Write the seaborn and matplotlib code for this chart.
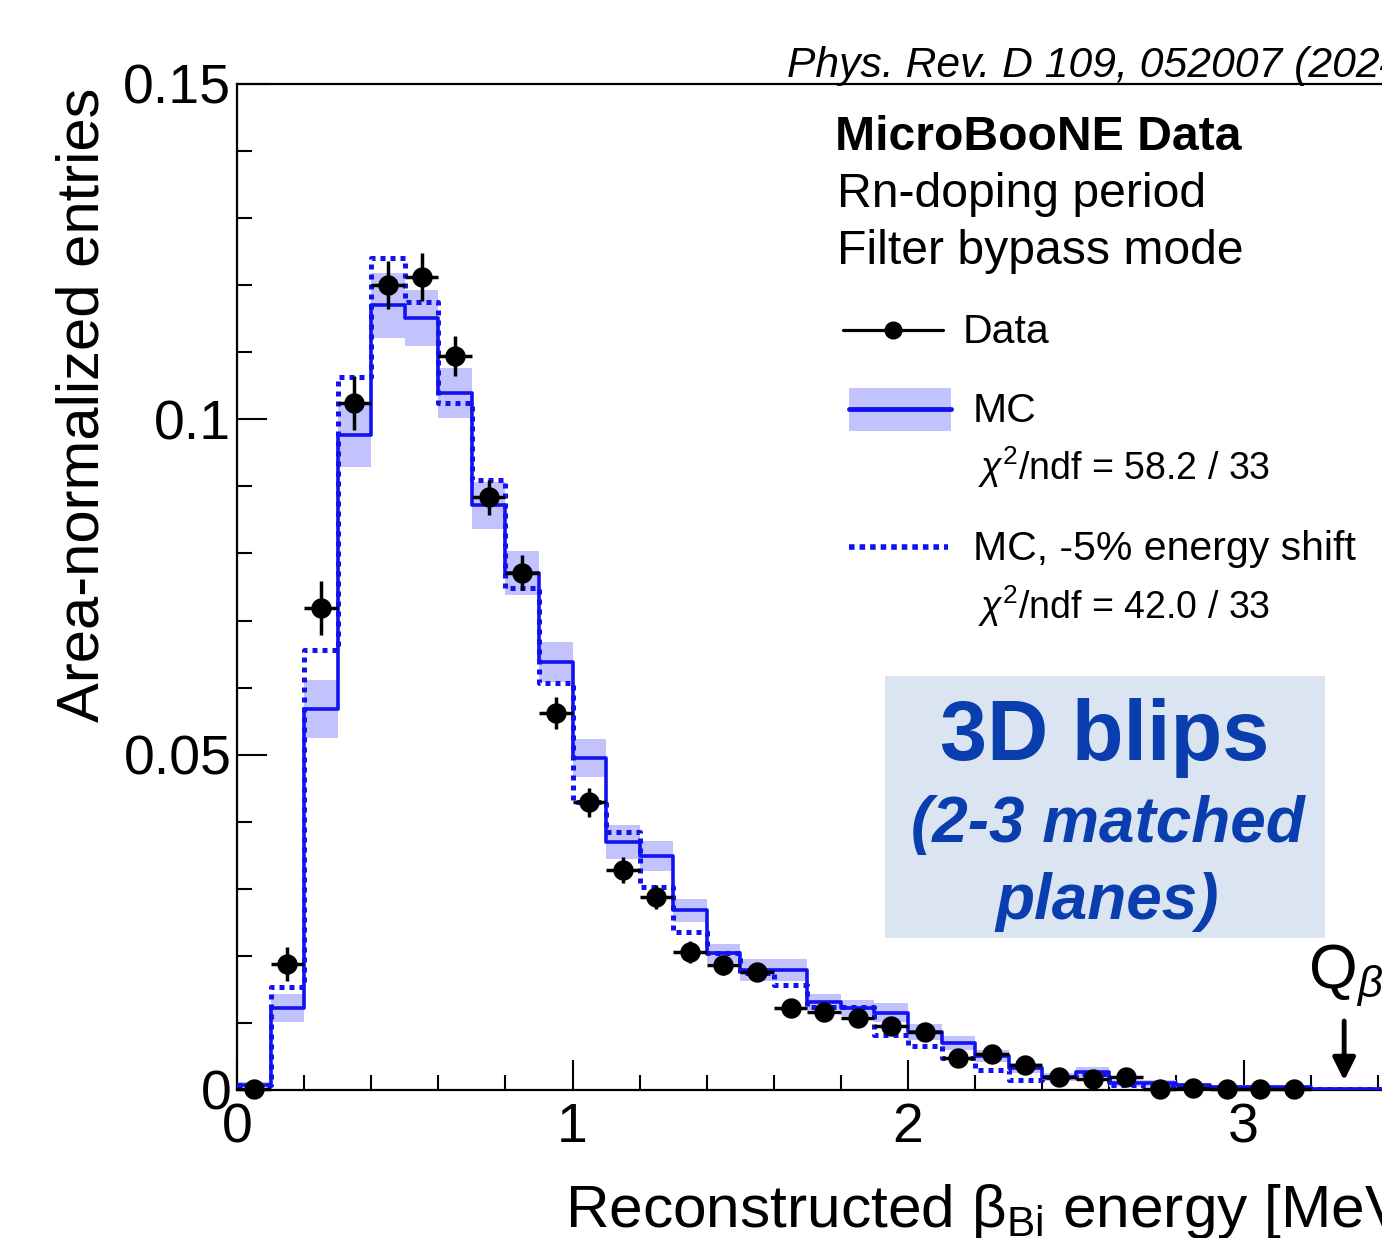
import numpy as np
import pandas as pd
import matplotlib
matplotlib.use("Agg")
import matplotlib.pyplot as plt
import seaborn as sns
from matplotlib.lines import Line2D
from matplotlib.patches import Rectangle
from matplotlib.ticker import MultipleLocator, FixedLocator, FixedFormatter

# ---------------- data ----------------
bin_edges = [round(0.1 * i, 2) for i in range(36)]
bin_centers = [round(0.1 * i + 0.05, 3) for i in range(35)]

mc = [0.0008, 0.0122, 0.0568, 0.0977, 0.1170, 0.1151, 0.1039, 0.0872, 0.0771, 0.0638,
      0.0495, 0.0370, 0.0349, 0.0268, 0.0204, 0.0179, 0.0179, 0.0131, 0.0122, 0.0115,
      0.0087, 0.0070, 0.0051, 0.0033, 0.0019, 0.0027, 0.0010, 0.0010, 0.0007, 0.0004,
      0.0004, 0.0004, 0.0002, 0.0002, 0.0002]
mc_err = [0.0004, 0.0021, 0.0043, 0.0048, 0.0048, 0.0042, 0.0037, 0.0035, 0.0033, 0.0030,
          0.0028, 0.0025, 0.0022, 0.0017, 0.0014, 0.0016, 0.0016, 0.0012, 0.0012, 0.0014,
          0.0012, 0.0010, 0.0009, 0.0008, 0.0006, 0.0007, 0.0005, 0.0005, 0.0004, 0.0003,
          0.0003, 0.0003, 0.0003, 0.0003, 0.0003]
mc_shift = [0.0008, 0.0154, 0.0656, 0.1063, 0.1240, 0.1175, 0.1024, 0.0909, 0.0748, 0.0607,
            0.0429, 0.0385, 0.0303, 0.0236, 0.0204, 0.0174, 0.0157, 0.0124, 0.0124, 0.0082,
            0.0066, 0.0047, 0.0030, 0.0015, 0.0020, 0.0024, 0.0007, 0.0006, 0.0005, 0.0003,
            0.0002, 0.0002, 0.0002, 0.0002, 0.0002]
data_vals = [0.0002, 0.0188, 0.0719, 0.1024, 0.1200, 0.1212, 0.1094, 0.0884, 0.0771, 0.0562,
             0.0429, 0.0328, 0.0288, 0.0206, 0.0186, 0.0176, 0.0122, 0.0116, 0.0107, 0.0096,
             0.0087, 0.0047, 0.0053, 0.0037, 0.0019, 0.0017, 0.0019, 0.0001, 0.0003, 0.0002,
             0.0001, 0.0001]
data_err = [0.0005, 0.0025, 0.0040, 0.0040, 0.0036, 0.0036, 0.0030, 0.0026, 0.0026, 0.0024,
            0.0022, 0.0020, 0.0018, 0.0016, 0.0015, 0.0014, 0.0013, 0.0012, 0.0012, 0.0011,
            0.0011, 0.0010, 0.0010, 0.0009, 0.0008, 0.0008, 0.0008, 0.0006, 0.0006, 0.0006,
            0.0006, 0.0006]

y_ticks = [0.0, 0.05, 0.10, 0.15]
y_tick_labels = ["0", "0.05", "0.1", "0.15"]
x_ticks = [0, 1, 2, 3]
x_tick_labels = ["0", "1", "2", "3"]

df_mc = pd.DataFrame({"E": bin_centers, "mc": mc, "err": mc_err, "shift": mc_shift})
df_data = pd.DataFrame({"E": bin_centers[:len(data_vals)], "y": data_vals, "err": data_err})

# ---------------- style ----------------
sns.set_theme(style="white")
plt.rcParams["font.family"] = ["Liberation Sans", "DejaVu Sans"]
plt.rcParams["mathtext.fontset"] = "custom"
plt.rcParams["mathtext.rm"] = "Liberation Sans"
plt.rcParams["mathtext.it"] = "Liberation Sans:italic"
plt.rcParams["mathtext.bf"] = "Liberation Sans:bold"

W, H = 1382, 1238
fig = plt.figure(figsize=(W / 100, H / 100), dpi=100)
fig.patch.set_facecolor("white")

def fx(x):
    return x / W

def fy(y):
    return 1 - y / H

ax_left, ax_bottom_px, ax_top_px = 237, 1090, 84
px_per_unit = 335.5
ax_w_px = 3.5 * px_per_unit
ax = fig.add_axes([fx(ax_left), fy(ax_bottom_px), ax_w_px / W,
                   (ax_bottom_px - ax_top_px) / H])
ax.set_facecolor("white")

BLUE = "#1212ee"
BAND = "#c2c2fc"

# MC uncertainty band
ax.bar(df_mc["E"], 2 * df_mc["err"], bottom=df_mc["mc"] - df_mc["err"], width=0.1,
       color=BAND, edgecolor="none", linewidth=0, zorder=1)

# MC histogram (solid)
sns.histplot(data=df_mc, x="E", weights="mc", bins=bin_edges, element="step", fill=False,
             color=BLUE, linewidth=2.6, ax=ax, zorder=3, legend=False)
# MC shifted (dotted)
sns.histplot(data=df_mc, x="E", weights="shift", bins=bin_edges, element="step", fill=False,
             color=BLUE, linewidth=3.6, linestyle=(0, (1, 1)), ax=ax, zorder=4, legend=False)

# Data
ax.errorbar(df_data["E"], df_data["y"], yerr=df_data["err"], xerr=0.05, fmt="none",
            ecolor="black", elinewidth=2.5, capsize=0, zorder=6, clip_on=False)
sns.scatterplot(data=df_data, x="E", y="y", color="black", s=215, linewidth=0,
                ax=ax, zorder=7, legend=False, clip_on=False)

# axes
ax.set_xlim(0, 3.5)
ax.set_ylim(0, 0.15)
ax.xaxis.set_major_locator(FixedLocator(x_ticks))
ax.xaxis.set_major_formatter(FixedFormatter(x_tick_labels))
ax.xaxis.set_minor_locator(MultipleLocator(0.2))
ax.yaxis.set_major_locator(FixedLocator(y_ticks))
ax.yaxis.set_major_formatter(FixedFormatter(y_tick_labels))
ax.yaxis.set_minor_locator(MultipleLocator(0.01))
ax.tick_params(axis="both", which="both", direction="in", color="black", width=1.5,
               top=False, right=False, bottom=True, left=True)
ax.tick_params(axis="both", which="major", length=21.6, labelsize=40, labelcolor="black")
ax.tick_params(axis="both", which="minor", length=10.8)
ax.tick_params(axis="x", which="major", pad=9)
ax.tick_params(axis="y", which="major", pad=4)
for s in ["left", "bottom", "top"]:
    ax.spines[s].set_visible(True)
    ax.spines[s].set_color("black")
    ax.spines[s].set_linewidth(1.6)
ax.spines["right"].set_visible(False)

ax.set_ylabel("Area-normalized entries", fontsize=43, color="black")
ax.yaxis.set_label_coords(-0.108, 0.681)
ax.set_xlabel(r"Reconstructed $\mathrm{β}_{\mathrm{Bi}}$ energy [MeV]", fontsize=43.5,
              color="black", loc="left")
ax.xaxis.set_label_coords((565 - ax_left) / ax_w_px, -0.091)

# Q_beta marker
ax.annotate("", xy=(3.30, 0.0010), xytext=(3.30, 0.0107),
            arrowprops=dict(arrowstyle="-|>", color="black", lw=3.5, mutation_scale=34),
            annotation_clip=False, zorder=8)
ax.text(3.305, (1090 - 988) / 6707, r"$\mathrm{Q}_{\beta}$", fontsize=45, ha="center",
        va="baseline", color="black", clip_on=False)

# top texts
fig.text(fx(787), fy(77), "Phys. Rev. D 109, 052007 (2024)", fontsize=30.7,
         style="italic", ha="left", va="baseline", color="black")
fig.text(fx(835), fy(150), "MicroBooNE Data", fontsize=34.7, weight="bold",
         ha="left", va="baseline", color="black")
fig.text(fx(837), fy(207), "Rn-doping period", fontsize=34.7, ha="left", va="baseline",
         color="black")
fig.text(fx(837), fy(264), "Filter bypass mode", fontsize=34.7, ha="left", va="baseline",
         color="black")

# legend (manual, ROOT style)
fig.add_artist(Line2D([fx(843), fx(943)], [fy(330), fy(330)], color="black", lw=2.3,
                      transform=fig.transFigure))
fig.add_artist(Line2D([fx(893)], [fy(330)], color="black", marker="o", markersize=12,
                      transform=fig.transFigure))
fig.text(fx(963), fy(343), "Data", fontsize=29.5, ha="left", va="baseline", color="black")

fig.add_artist(Rectangle((fx(849), fy(431)), fx(951) - fx(849), fy(388) - fy(431),
                         transform=fig.transFigure, facecolor=BAND, edgecolor="none"))
fig.add_artist(Line2D([fx(849), fx(951)], [fy(409), fy(409)], color=BLUE, lw=3.5,
                      transform=fig.transFigure))
fig.text(fx(973), fy(422), "MC", fontsize=29.5, ha="left", va="baseline", color="black")
fig.text(fx(978), fy(480), r"$\chi^2$/ndf = 58.2 / 33", fontsize=27, ha="left",
         va="baseline", color="black")

fig.add_artist(Line2D([fx(849), fx(948)], [fy(547), fy(547)], color=BLUE, lw=4,
                      linestyle=(0, (1, 0.9)), transform=fig.transFigure))
fig.text(fx(973), fy(560), "MC, -5% energy shift", fontsize=29.5, ha="left",
         va="baseline", color="black")
fig.text(fx(978), fy(619), r"$\chi^2$/ndf = 42.0 / 33", fontsize=27, ha="left",
         va="baseline", color="black")

# annotation box
fig.add_artist(Rectangle((fx(885), fy(938)), fx(1325) - fx(885), fy(676) - fy(938),
                         transform=fig.transFigure, facecolor="#dbe5f1", edgecolor="none",
                         zorder=2))
TXT_BLUE = "#0a3eae"
fig.text(fx(1105), fy(760), "3D blips", fontsize=61, weight="bold", ha="center",
         va="baseline", color=TXT_BLUE, zorder=3)
fig.text(fx(1108), fy(842), "(2-3 matched", fontsize=46, weight="bold", style="italic",
         ha="center", va="baseline", color=TXT_BLUE, zorder=3)
fig.text(fx(1107), fy(919), "planes)", fontsize=46, weight="bold", style="italic",
         ha="center", va="baseline", color=TXT_BLUE, zorder=3)

fig.savefig("out.png", dpi=100, facecolor="white")
